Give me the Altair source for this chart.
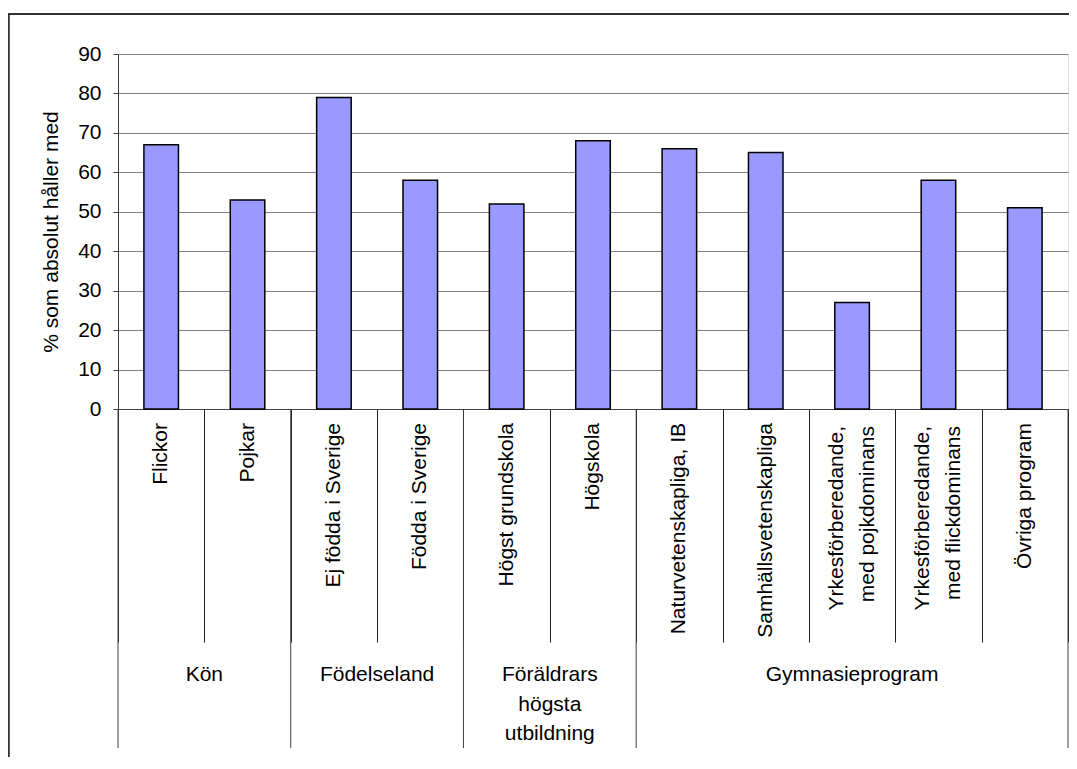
import altair as alt
import pandas as pd

# ---- data ----
categories = [
    "Flickor", "Pojkar",
    "Ej födda i Sverige", "Födda i Sverige",
    "Högst grundskola", "Högskola",
    "Naturvetenskapliga, IB", "Samhällsvetenskapliga",
    "Yrkesförberedande,\nmed pojkdominans",
    "Yrkesförberedande,\nmed flickdominans",
    "Övriga program",
]
groups = [
    "Kön", "Kön",
    "Födelseland", "Födelseland",
    "Föräldrars\nhögsta\nutbildning", "Föräldrars\nhögsta\nutbildning",
    "Gymnasieprogram", "Gymnasieprogram", "Gymnasieprogram",
    "Gymnasieprogram", "Gymnasieprogram",
]
values = [67, 53, 79, 58, 52, 68, 66, 65, 27, 58, 51]
y_ticks = list(range(0, 91, 10))
y_title = "% som absolut håller med"

FONT = "Liberation Sans"
FS = 21
n = len(categories)

df = pd.DataFrame({"cat": categories, "group": groups, "value": values,
                   "idx": list(range(n))})
df["lines"] = df["cat"].str.count("\n") + 1

# group spans (derived from the category order)
gdf = (df.groupby("group", sort=False)["idx"]
         .agg(["min", "max"]).reset_index())
gdf["start"] = gdf["min"]
gdf["end"] = gdf["max"] + 1
gdf["mid"] = (gdf["start"] + gdf["end"]) / 2
bounds = pd.DataFrame({"b": list(gdf["start"]) + [int(gdf["end"].iloc[-1])]})

xscale = alt.Scale(domain=[0, n], nice=False, zero=False)
yscale = alt.Scale(domain=[0, 90], nice=False)

base = alt.Chart(df).transform_calculate(
    x0="datum.idx + 0.3", x1="datum.idx + 0.7", xc="datum.idx + 0.5"
)

bars = base.mark_bar(fill="#9999FF", stroke="black", strokeWidth=1.5).encode(
    x=alt.X("x0:Q", scale=xscale,
            axis=alt.Axis(values=list(range(n + 1)), labels=False, title=None,
                          ticks=True, tickSize=233, tickColor="#222222",
                          tickWidth=1, domain=True, domainColor="#404040",
                          grid=False)),
    x2="x1:Q",
    y=alt.Y("value:Q", scale=yscale,
            axis=alt.Axis(values=y_ticks, title=y_title, titleFont=FONT,
                          titleFontSize=FS, titleFontWeight="normal",
                          titleColor="black", titlePadding=16,
                          labelFont=FONT, labelFontSize=FS, labelColor="black",
                          labelPadding=12, tickSize=5, tickColor="#404040",
                          domainColor="#404040", grid=True,
                          gridColor="#808080", gridWidth=1)),
    y2=alt.datum(0),
)

text_kw = dict(angle=270, align="right", baseline="middle", font=FONT,
               fontSize=FS, color="black", lineBreak="\n", lineHeight=31)

cat_labels_1 = base.transform_filter("datum.lines == 1").mark_text(**text_kw).encode(
    x=alt.X("xc:Q", scale=xscale),
    y=alt.value(369),
    text="cat:N",
)
cat_labels_2 = base.transform_filter("datum.lines == 2").mark_text(
    dy=-15.5, **text_kw).encode(
    x=alt.X("xc:Q", scale=xscale),
    y=alt.value(372),
    text="cat:N",
)

group_rules = alt.Chart(bounds).mark_rule(color="#404040", strokeWidth=1).encode(
    x=alt.X("b:Q", scale=xscale),
    y=alt.value(355),
    y2=alt.value(694),
)

group_labels = alt.Chart(gdf).mark_text(align="center", baseline="top",
                                        font=FONT, fontSize=FS, color="black",
                                        lineBreak="\n", lineHeight=29.5).encode(
    x=alt.X("mid:Q", scale=xscale),
    y=alt.value(610),
    text="group:N",
)

# outer chart frame (top and left edges visible in the reference)
frame_top = alt.Chart(bounds).mark_rule(color="#333333", strokeWidth=1.5).encode(
    x=alt.value(-109.5), x2=alt.value(952), y=alt.value(-40))
frame_left = alt.Chart(bounds).mark_rule(color="#333333", strokeWidth=1.5).encode(
    x=alt.value(-109.5), y=alt.value(-40), y2=alt.value(705))

chart = alt.layer(
    bars, cat_labels_1, cat_labels_2, group_rules, group_labels,
    frame_top, frame_left
).properties(
    width=950, height=355,
    padding={"left": 110, "top": 46, "right": 1, "bottom": 348},
    autosize=alt.AutoSizeParams(type="none"),
).configure_view(
    stroke="#999999", strokeWidth=1
).configure(
    font=FONT, background="white"
)

chart.save("out.html", embed_options={"renderer": "svg", "actions": False})
